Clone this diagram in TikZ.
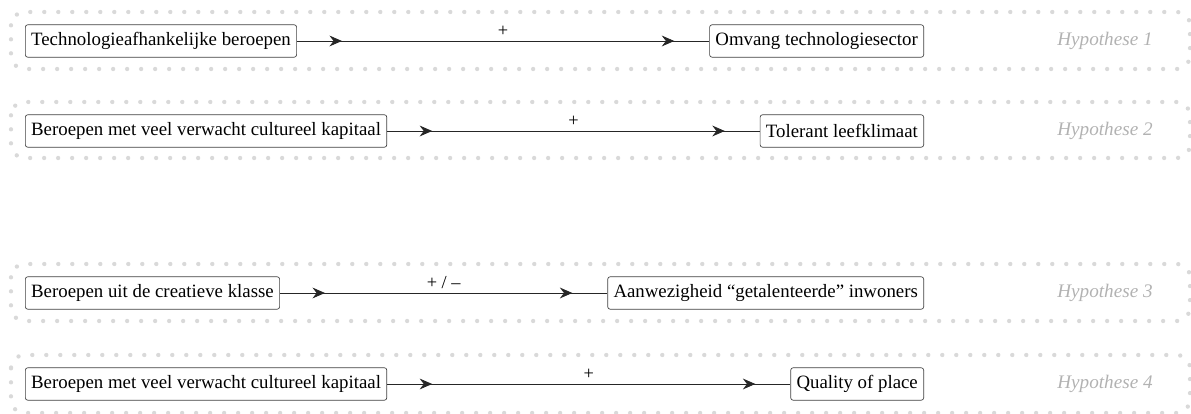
\documentclass[tikz,border=0pt]{standalone}
\usepackage{fontspec}
\setmainfont{Liberation Serif}
\usetikzlibrary{arrows.meta,decorations.markings}

\begin{document}
\begin{tikzpicture}[x=0.6pt,y=-0.6pt,
  boite/.style={draw=black!75,rounded corners=1.5pt,inner xsep=3.5pt,inner ysep=0pt,
    minimum height=19.5pt,font=\fontsize{11.3}{13}\selectfont},
  rangee/.style={draw=gray!30,line width=2.6pt,line cap=round,
    dash pattern=on 0pt off 8.4pt,rounded corners=8pt},
  hyp/.style={gray!60,font=\fontsize{11.5}{13}\selectfont\itshape},
  signe/.style={midway,above,inner sep=2.5pt,font=\fontsize{11}{13}\selectfont},
  fleche/.style={draw=black!85,line width=0.5pt,postaction={decorate},
    decoration={markings,
      mark=at position 27pt with {\arrow{Stealth[length=7.5pt,width=6.5pt,inset=2.5pt]}},
      mark=at position -21pt with {\arrow{Stealth[length=7.5pt,width=6.5pt,inset=2.5pt]}}}}
]
\useasboundingbox (0,0) rectangle (1191,414);

% ===== Bandes pointillees =====
\draw[rangee] (11,12) rectangle (1190,69);
\draw[rangee] (11,102) rectangle (1190,158);
\draw[rangee] (11,264) rectangle (1190,321);
\draw[rangee] (11,355) rectangle (1190,413);

% ===== Hypothese 1 =====
\node[boite,anchor=west] (tech) at (25,41) {Technologieafhankelijke beroepen};
\node[boite,anchor=east] (sector) at (924,41) {Omvang technologiesector};
\draw[fleche] (tech.east) -- (sector.west) node[signe] {+};
\node[hyp] (h1) at (1105,41) {Hypothese 1};

% ===== Hypothese 2 =====
\node[boite,anchor=west] (kap1) at (25,131) {Beroepen met veel verwacht cultureel kapitaal};
\node[boite,anchor=east] (tolerant) at (924,131) {Tolerant leefklimaat};
\draw[fleche] (kap1.east) -- (tolerant.west) node[signe] {+};
\node[hyp] (h2) at (1105,131) {Hypothese 2};

% ===== Hypothese 3 =====
\node[boite,anchor=west] (creatief) at (25,293) {Beroepen uit de creatieve klasse};
\node[boite,anchor=east] (talent) at (924,293) {Aanwezigheid “getalenteerde” inwoners};
\draw[fleche] (creatief.east) -- (talent.west) node[signe] {+ / –};
\node[hyp] (h3) at (1105,293) {Hypothese 3};

% ===== Hypothese 4 =====
\node[boite,anchor=west] (kap2) at (25,384) {Beroepen met veel verwacht cultureel kapitaal};
\node[boite,anchor=east] (place) at (924,384) {Quality of place};
\draw[fleche] (kap2.east) -- (place.west) node[signe] {+};
\node[hyp] (h4) at (1105,384) {Hypothese 4};

\end{tikzpicture}
\end{document}
